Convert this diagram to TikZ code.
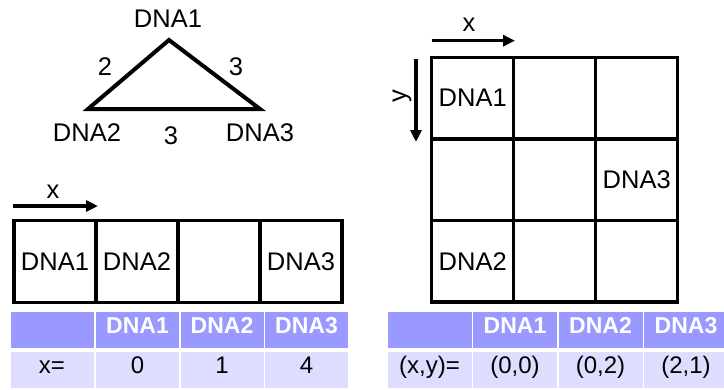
\documentclass[tikz,border=0pt]{standalone}
\usepackage{fontspec}
\setmainfont{Liberation Sans}
\usetikzlibrary{arrows.meta}
\definecolor{hdr}{HTML}{9999FF}
\definecolor{bdy}{HTML}{DDDDFF}
\begin{document}
\begin{tikzpicture}[x=1pt,y=-1pt,
  lbl/.style={inner sep=0pt, font=\fontsize{25.5}{30}\selectfont},
  cellbox/.style={draw=black, line width=3.4pt, minimum width=82pt, minimum height=81.6pt, inner sep=0pt, font=\fontsize{25.5}{30}\selectfont},
  hcell/.style={fill=hdr, minimum width=83pt, minimum height=36.6pt, inner sep=0pt, text=white, font=\fontsize{23}{27}\selectfont\bfseries, text height=0.72em, text depth=0pt},
  bcell/.style={fill=bdy, minimum width=83pt, minimum height=36.6pt, inner sep=0pt, font=\fontsize{24}{28}\selectfont, text height=0.72em, text depth=0pt},
  axarrow/.style={line width=3.4pt, -{Triangle[length=12pt,width=11pt]}},
  edge/.style={line width=4pt, line join=miter}]
\useasboundingbox (0,0) rectangle (724,389);

% triangle graph
\coordinate (v1) at (169,40);
\coordinate (v2) at (88,109);
\coordinate (v3) at (260,109);
\draw[edge] (v1) -- (v2) -- (v3) -- cycle;
\node[lbl] (n1) at (168,19) {DNA1};
\node[lbl] (n2) at (87,132.5) {DNA2};
\node[lbl] (n3) at (260,132.5) {DNA3};
\node[lbl] (w12) at (105,66.5) {2};
\node[lbl] (w13) at (236,67) {3};
\node[lbl] (w23) at (171,135.5) {3};

% 1D strip
\coordinate (xa1) at (13,206);
\coordinate (xa2) at (98,206);
\draw[axarrow] (xa1) -- (xa2);
\node[lbl] (xl) at (53,192) {x};
\node[cellbox] (s1) at (55,261.5) {DNA1};
\node[cellbox] (s2) at (137,261.5) {DNA2};
\node[cellbox] (s3) at (219,261.5) {};
\node[cellbox] (s4) at (301,261.5) {DNA3};

% left table
\node[hcell] (lh0) at (52,330) {};
\node[hcell] (lh1) at (137.5,330) {DNA1};
\node[hcell] (lh2) at (222,330) {DNA2};
\node[hcell] (lh3) at (306.5,330) {DNA3};
\node[bcell] (lb0) at (52,370) {x=};
\node[bcell] (lb1) at (137.5,370) {0};
\node[bcell] (lb2) at (222,370) {1};
\node[bcell] (lb3) at (306.5,370) {4};

% 2D grid
\coordinate (gxa1) at (431.7,40.7);
\coordinate (gxa2) at (515,40.7);
\draw[axarrow] (gxa1) -- (gxa2);
\node[lbl] (gxl) at (469,25) {x};
\coordinate (gya1) at (416,59);
\coordinate (gya2) at (416,142);
\draw[axarrow] (gya1) -- (gya2);
\node[lbl, rotate=90] (gyl) at (402,96) {y};
\node[cellbox] (g11) at (472.7,98.1) {DNA1};
\node[cellbox] (g12) at (554.7,98.1) {};
\node[cellbox] (g13) at (636.7,98.1) {};
\node[cellbox] (g21) at (472.7,179.7) {};
\node[cellbox] (g22) at (554.7,179.7) {};
\node[cellbox] (g23) at (636.7,179.7) {DNA3};
\node[cellbox] (g31) at (472.7,261.3) {DNA2};
\node[cellbox] (g32) at (554.7,261.3) {};
\node[cellbox] (g33) at (636.7,261.3) {};

% right table
\node[hcell, minimum width=84pt] (rh0) at (429.5,330) {};
\node[hcell, minimum width=84pt] (rh1) at (515,330) {DNA1};
\node[hcell, minimum width=84pt] (rh2) at (600.5,330) {DNA2};
\node[hcell, minimum width=84pt] (rh3) at (686,330) {DNA3};
\node[bcell, minimum width=84pt] (rb0) at (429.5,370) {(x,y)=};
\node[bcell, minimum width=84pt] (rb1) at (515,370) {(0,0)};
\node[bcell, minimum width=84pt] (rb2) at (600.5,370) {(0,2)};
\node[bcell, minimum width=84pt] (rb3) at (686,370) {(2,1)};
\end{tikzpicture}
\end{document}
